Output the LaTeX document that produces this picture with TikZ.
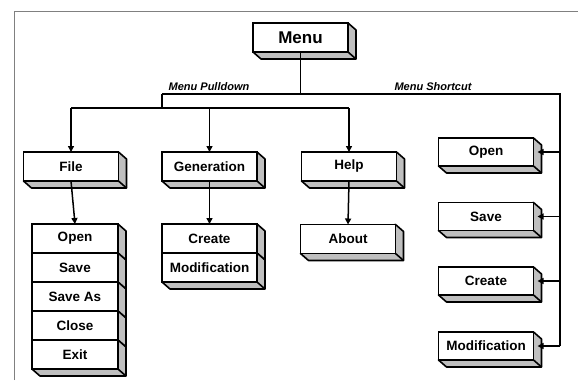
\documentclass[tikz,border=0pt]{standalone}
\usepackage{fontspec}
\setmainfont{Liberation Sans}
\usetikzlibrary{positioning,arrows.meta}

\tikzset{
  mbox/.style={draw, line width=1.6pt, fill=white, inner sep=0pt, outer sep=0pt,
    minimum width=95pt, minimum height=29pt,
    font=\bfseries\fontsize{13.5}{16}\selectfont,
    append after command={\pgfextra{
      \filldraw[black!25, draw=black, line width=1.6pt, line join=round]
        (\tikzlastnode.north east) -- ++(8pt,-7pt)
        -- ([shift={(8pt,-7pt)}]\tikzlastnode.south east)
        -- ([shift={(8pt,-7pt)}]\tikzlastnode.south west)
        -- (\tikzlastnode.south west) -- cycle;
      \draw[line width=1.6pt] (\tikzlastnode.south east) -- ++(8pt,-7pt);}}},
  wire/.style={line width=1.5pt},
  arr/.style={line width=1.5pt, -{Triangle[length=6pt,width=6pt]}},
  lbl/.style={font=\bfseries\itshape\fontsize{11}{13}\selectfont}
}

\begin{document}
\begin{tikzpicture}[x=1pt,y=-1pt]
  \useasboundingbox (0,0) rectangle (578,380);

  % Frame
  \draw[gray, line width=0.8pt] (14,380) -- (14,11) -- (578,11);

  % Top menu
  \node[mbox, font=\bfseries\fontsize{17}{20}\selectfont] (menu) at (300.5,37.5) {Menu};

  % Pulldown menus
  \node[mbox] (file) at (71,166.5) {File};
  \node[mbox] (gen) at (209.5,166.5) {Generation};
  \node[mbox] (help) at (349,166.5) {Help};

  \node[mbox, minimum width=86pt] (fopen) at (75,238.5) {Open};
  \node[mbox, minimum width=86pt, below=0pt of fopen] (fsave) {Save};
  \node[mbox, minimum width=86pt, below=0pt of fsave] (fsaveas) {Save As};
  \node[mbox, minimum width=86pt, below=0pt of fsaveas] (fclose) {Close};
  \node[mbox, minimum width=86pt, below=0pt of fclose] (fexit) {Exit};

  \node[mbox] (gcreate) at (209.5,238.5) {Create};
  \node[mbox, below=0pt of gcreate] (gmod) {Modification};

  \node[mbox] (about) at (348,239) {About};

  % Shortcuts
  \node[mbox, minimum height=28pt] (sopen) at (486,152) {Open};
  \node[mbox, minimum height=28pt] (ssave) at (486,216.5) {Save};
  \node[mbox, minimum height=28pt] (screate) at (486,281) {Create};
  \node[mbox, minimum height=28pt] (smod) at (486,346) {Modification};

  % Labels
  \node[lbl] (pdlabel) at (209,87) {Menu Pulldown};
  \node[lbl] (sclabel) at (433,87) {Menu Shortcut};

  % Bus lines
  \coordinate (pd) at (162,94);
  \coordinate (sc) at (560,94);
  \coordinate (lb) at (162,108);
  \draw[wire] (menu.south) -- (menu.south |- pd);
  \draw[wire] (pd) -- (sc) -- (sc |- smod.east);
  \draw[wire] (pd) -- (lb);
  \draw[wire] (file.north |- lb) -- (help.north |- lb);

  % Arrows to pulldowns
  \foreach \n in {file,gen,help}
    \draw[arr] (\n.north |- lb) -- (\n.north);
  \draw[arr] (file.south) -- (fopen.north);
  \draw[arr] (gen.south) -- (gcreate.north);
  \draw[arr] (help.south) -- (about.north);

  % Arrows to shortcuts
  \foreach \n in {sopen,ssave,screate,smod}
    \draw[arr] (sc |- \n.east) -- ([xshift=4pt]\n.east);

\end{tikzpicture}
\end{document}
